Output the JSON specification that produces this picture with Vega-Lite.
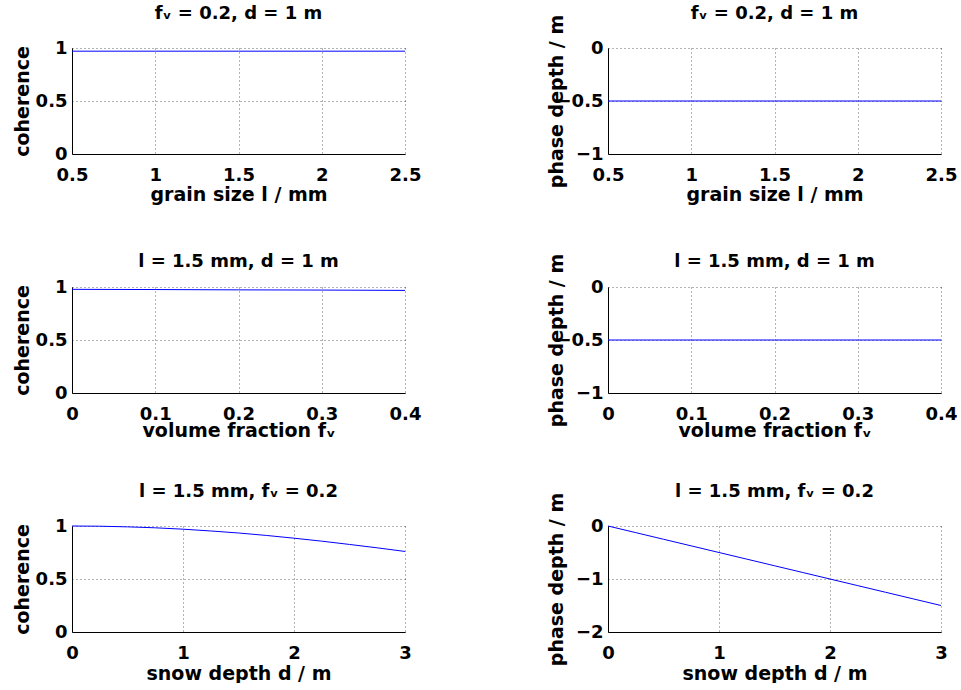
{
  "$schema": "https://vega.github.io/schema/vega-lite/v6.json",
  "background": "white",
  "padding": {"left": 12, "top": 5, "right": 0, "bottom": 0},
  "config": {
    "font": "DejaVu Sans",
    "view": {"stroke": null},
    "axis": {
      "labelFont": "DejaVu Sans", "labelFontWeight": "bold", "labelFontSize": 18, "labelColor": "#000",
      "titleFont": "DejaVu Sans", "titleFontWeight": "bold", "titleFontSize": 19, "titleColor": "#000",
      "domainColor": "#000", "domainWidth": 1, "ticks": false, "tickSize": 0,
      "grid": true, "gridColor": "#000", "gridOpacity": 0.6, "gridDash": [1, 3], "gridWidth": 1,
      "labelOverlap": false, "labelFlush": false, "labelBound": false
    },
    "axisX": {"labelPadding": 26, "labelBaseline": "alphabetic", "titleY": 46, "titleBaseline": "alphabetic"},
    "axisY": {"labelPadding": 5, "labelBaseline": "middle", "titleBaseline": "alphabetic", "titleAngle": -90},
    "title": {"font": "DejaVu Sans", "fontSize": 18, "fontWeight": "bold", "color": "#000", "baseline": "alphabetic", "anchor": "middle", "offset": 16}
  },
  "datasets": {
    "grain": [
      {"l": 0.5, "coh": 0.97, "phase": -0.5},
      {"l": 1.0, "coh": 0.97, "phase": -0.5},
      {"l": 1.5, "coh": 0.97, "phase": -0.5},
      {"l": 2.0, "coh": 0.97, "phase": -0.5},
      {"l": 2.5, "coh": 0.97, "phase": -0.5}
    ],
    "frac": [
      {"fv": 0.0, "coh": 0.978, "phase": -0.5},
      {"fv": 0.1, "coh": 0.976, "phase": -0.5},
      {"fv": 0.2, "coh": 0.973, "phase": -0.5},
      {"fv": 0.3, "coh": 0.971, "phase": -0.5},
      {"fv": 0.4, "coh": 0.968, "phase": -0.5}
    ],
    "depth": [
      {"d": 0.0, "coh": 1.0, "phase": 0.0},
      {"d": 0.25, "coh": 0.998, "phase": -0.125},
      {"d": 0.5, "coh": 0.992, "phase": -0.25},
      {"d": 0.75, "coh": 0.983, "phase": -0.375},
      {"d": 1.0, "coh": 0.970, "phase": -0.5},
      {"d": 1.25, "coh": 0.953, "phase": -0.625},
      {"d": 1.5, "coh": 0.934, "phase": -0.75},
      {"d": 1.75, "coh": 0.911, "phase": -0.875},
      {"d": 2.0, "coh": 0.885, "phase": -1.0},
      {"d": 2.25, "coh": 0.857, "phase": -1.125},
      {"d": 2.5, "coh": 0.826, "phase": -1.25},
      {"d": 2.75, "coh": 0.794, "phase": -1.375},
      {"d": 3.0, "coh": 0.760, "phase": -1.5}
    ]
  },
  "columns": 2,
  "bounds": "flush",
  "spacing": {"row": 133, "column": 203},
  "concat": [
    {
      "width": 333, "height": 106,
      "title": {"text": "fᵥ = 0.2, d = 1 m", "offset": 16},
      "data": {"name": "grain"},
      "mark": {"type": "line", "color": "#0000ff", "strokeWidth": 1},
      "encoding": {
        "x": {"field": "l", "type": "quantitative", "scale": {"domain": [0.5, 2.5], "nice": false, "zero": false},
              "axis": {"title": "grain size l / mm", "values": [0.5, 1, 1.5, 2, 2.5], "format": "~g"}},
        "y": {"field": "coh", "type": "quantitative", "scale": {"domain": [0, 1], "nice": false},
              "axis": {"title": "coherence", "values": [0, 0.5, 1], "format": "~g", "titleX": -44}}
      }
    },
    {
      "width": 333, "height": 106,
      "title": {"text": "fᵥ = 0.2, d = 1 m", "offset": -9},
      "data": {"name": "grain"},
      "mark": {"type": "line", "color": "#0000ff", "strokeWidth": 1},
      "encoding": {
        "x": {"field": "l", "type": "quantitative", "scale": {"domain": [0.5, 2.5], "nice": false, "zero": false},
              "axis": {"title": "grain size l / mm", "values": [0.5, 1, 1.5, 2, 2.5], "format": "~g"}},
        "y": {"field": "phase", "type": "quantitative", "scale": {"domain": [-1, 0], "nice": false},
              "axis": {"title": "phase depth / m", "values": [-1, -0.5, 0], "format": "~g", "titleX": -46}}
      }
    },
    {
      "width": 333, "height": 106,
      "title": {"text": "l = 1.5 mm, d = 1 m", "offset": 7},
      "data": {"name": "frac"},
      "mark": {"type": "line", "color": "#0000ff", "strokeWidth": 1},
      "encoding": {
        "x": {"field": "fv", "type": "quantitative", "scale": {"domain": [0, 0.4], "nice": false},
              "axis": {"title": "volume fraction fᵥ", "values": [0, 0.1, 0.2, 0.3, 0.4], "format": "~g", "titleY": 43}},
        "y": {"field": "coh", "type": "quantitative", "scale": {"domain": [0, 1], "nice": false},
              "axis": {"title": "coherence", "values": [0, 0.5, 1], "format": "~g", "titleX": -44}}
      }
    },
    {
      "width": 333, "height": 106,
      "title": {"text": "l = 1.5 mm, d = 1 m", "offset": -18},
      "data": {"name": "frac"},
      "mark": {"type": "line", "color": "#0000ff", "strokeWidth": 1},
      "encoding": {
        "x": {"field": "fv", "type": "quantitative", "scale": {"domain": [0, 0.4], "nice": false},
              "axis": {"title": "volume fraction fᵥ", "values": [0, 0.1, 0.2, 0.3, 0.4], "format": "~g", "titleY": 43}},
        "y": {"field": "phase", "type": "quantitative", "scale": {"domain": [-1, 0], "nice": false},
              "axis": {"title": "phase depth / m", "values": [-1, -0.5, 0], "format": "~g", "titleX": -46}}
      }
    },
    {
      "width": 333, "height": 106,
      "title": {"text": "l = 1.5 mm, fᵥ = 0.2", "offset": 16},
      "data": {"name": "depth"},
      "mark": {"type": "line", "color": "#0000ff", "strokeWidth": 1},
      "encoding": {
        "x": {"field": "d", "type": "quantitative", "scale": {"domain": [0, 3], "nice": false},
              "axis": {"title": "snow depth d / m", "values": [0, 1, 2, 3], "format": "~g", "titleY": 47}},
        "y": {"field": "coh", "type": "quantitative", "scale": {"domain": [0, 1], "nice": false},
              "axis": {"title": "coherence", "values": [0, 0.5, 1], "format": "~g", "titleX": -44}}
      }
    },
    {
      "width": 333, "height": 106,
      "title": {"text": "l = 1.5 mm, fᵥ = 0.2", "offset": -9},
      "data": {"name": "depth"},
      "mark": {"type": "line", "color": "#0000ff", "strokeWidth": 1},
      "encoding": {
        "x": {"field": "d", "type": "quantitative", "scale": {"domain": [0, 3], "nice": false},
              "axis": {"title": "snow depth d / m", "values": [0, 1, 2, 3], "format": "~g", "titleY": 47}},
        "y": {"field": "phase", "type": "quantitative", "scale": {"domain": [-2, 0], "nice": false},
              "axis": {"title": "phase depth / m", "values": [-2, -1, 0], "format": "~g", "titleX": -46}}
      }
    }
  ]
}
